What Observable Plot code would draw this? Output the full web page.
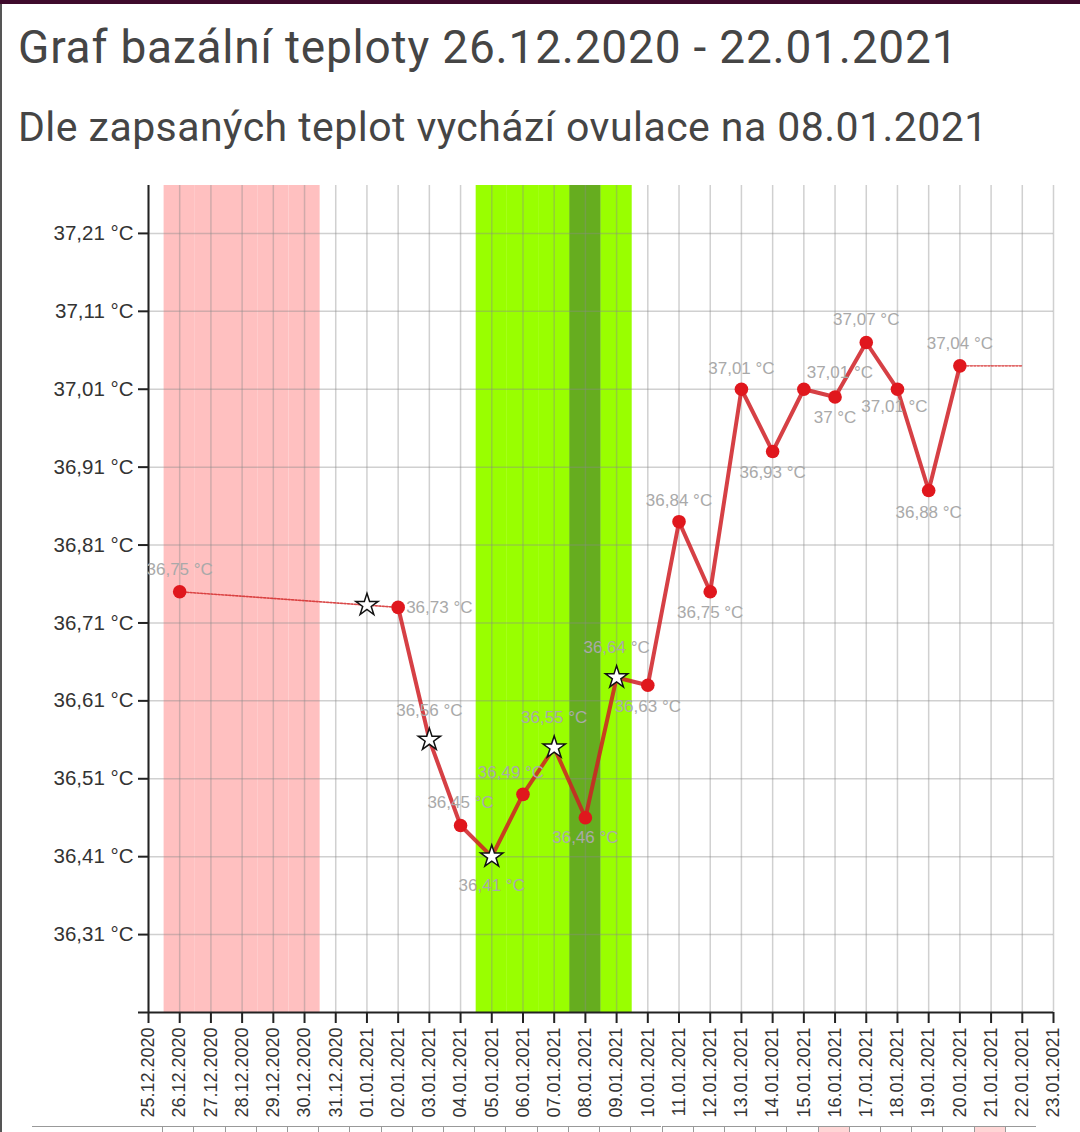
<!DOCTYPE html>
<html>
<head>
<meta charset="utf-8">
<script src="https://cdn.jsdelivr.net/npm/d3@7"></script>
<script src="https://cdn.jsdelivr.net/npm/@observablehq/plot@0.6"></script>
<style>
  html, body { margin: 0; padding: 0; background: #fff; }
  #page { position: relative; width: 1080px; height: 1132px; overflow: hidden; background: #fff; }
  #topbar { position: absolute; left: 0; top: 0; width: 1080px; height: 4px; background: #3e0a2c; }
  #leftbar { position: absolute; left: 0; top: 4px; width: 2px; height: 1128px; background: #555; }
  .t { position: absolute; left: 18px; margin: 0; font-family: Roboto, "Noto Sans", sans-serif; font-weight: 400; color: #454545; line-height: 1; white-space: nowrap; }
  #title { top: 24px; font-size: 46px; letter-spacing: 0.8px; }
  #subtitle { top: 107px; font-size: 41px; letter-spacing: 0.45px; }
  #chart { position: absolute; left: 0; top: 175px; }
  #strip { position: absolute; left: 0; top: 1126px; width: 1080px; height: 10px; }
  .cell { position: absolute; top: 0; height: 10px; box-sizing: border-box; border-top: 1px solid #999; border-left: 1px solid #999; }
</style>
</head>
<body>
<div id="page">
  <div id="topbar"></div>
  <div id="leftbar"></div>
  <h1 class="t" id="title">Graf bazální teploty 26.12.2020 - 22.01.2021</h1>
  <h2 class="t" id="subtitle">Dle zapsaných teplot vychází ovulace na 08.01.2021</h2>
  <div id="chart"></div>
  <div id="strip"></div>
</div>
<script>
// ---------- data ----------
const tickDates = ["25.12.2020","26.12.2020","27.12.2020","28.12.2020","29.12.2020","30.12.2020","31.12.2020",
  "01.01.2021","02.01.2021","03.01.2021","04.01.2021","05.01.2021","06.01.2021","07.01.2021","08.01.2021",
  "09.01.2021","10.01.2021","11.01.2021","12.01.2021","13.01.2021","14.01.2021","15.01.2021","16.01.2021",
  "17.01.2021","18.01.2021","19.01.2021","20.01.2021","21.01.2021","22.01.2021","23.01.2021"];
const yTicks = [36.31, 36.41, 36.51, 36.61, 36.71, 36.81, 36.91, 37.01, 37.11, 37.21];

const measureDates = ["26.12.2020","02.01.2021","03.01.2021","04.01.2021","05.01.2021","06.01.2021","07.01.2021",
  "08.01.2021","09.01.2021","10.01.2021","11.01.2021","12.01.2021","13.01.2021","14.01.2021","15.01.2021",
  "16.01.2021","17.01.2021","18.01.2021","19.01.2021","20.01.2021"];
const temps = [36.75, 36.73, 36.56, 36.45, 36.41, 36.49, 36.55, 36.46, 36.64, 36.63, 36.84, 36.75, 37.01,
  36.93, 37.01, 37.00, 37.07, 37.01, 36.88, 37.04];
const markerTypes = ["dot","dot","star","dot","star","dot","star","dot","star","dot","dot","dot","dot",
  "dot","dot","dot","dot","dot","dot","dot"];

// unmeasured day marked with a star (sits on the gap line)
const extraStarDates = ["01.01.2021"];
const extraStarValues = [36.733];

// continuation after the last measurement
const extensionDates = ["20.01.2021", "22.01.2021"];
const extensionValues = [37.04, 37.04];

const periodDays = ["26.12.2020","27.12.2020","28.12.2020","29.12.2020","30.12.2020"];
const fertileDays = ["05.01.2021","06.01.2021","07.01.2021","08.01.2021","09.01.2021"];
const ovulationDays = ["08.01.2021"];

const stripHighlight = ["16.01.2021", "21.01.2021"];

// label placement (layout config): [dx, dy, anchor]
const labelOffsets = {
  "26.12.2020": [0, -22, "middle"], "02.01.2021": [8, 0, "start"], "03.01.2021": [0, -29, "middle"],
  "04.01.2021": [0, -23, "middle"], "05.01.2021": [0, 29, "middle"], "06.01.2021": [-12, -22, "middle"],
  "07.01.2021": [0, -30, "middle"], "08.01.2021": [0, 20, "middle"], "09.01.2021": [0, -30, "middle"],
  "10.01.2021": [0, 21, "middle"], "11.01.2021": [0, -21, "middle"], "12.01.2021": [0, 21, "middle"],
  "13.01.2021": [0, -21, "middle"], "14.01.2021": [0, 21, "middle"], "15.01.2021": [36, -17, "middle"],
  "16.01.2021": [0, 21, "middle"], "17.01.2021": [0, -23, "middle"], "18.01.2021": [-3, 17, "middle"],
  "19.01.2021": [0, 22, "middle"], "20.01.2021": [0, -22, "middle"]
};

// ---------- build ----------
const parse = d3.utcParse("%d.%m.%Y");
const fmtDate = d3.utcFormat("%d.%m.%Y");
const halfDay = 12 * 3600 * 1000;
const fmtTemp = v => String(v).replace(".", ",") + " °C";

const measurements = measureDates.map((d, i) => ({date: parse(d), key: d, value: temps[i], marker: markerTypes[i]}));
const gapLine = measurements.slice(0, 2);
const solidLine = measurements.slice(1);
const extension = extensionDates.map((d, i) => ({date: parse(d), value: extensionValues[i]}));
const extraStars = extraStarDates.map((d, i) => ({date: parse(d), value: extraStarValues[i]}));
const band = arr => arr.map(d => ({x1: new Date(+parse(d) - halfDay), x2: new Date(+parse(d) + halfDay)}));
const ticks = tickDates.map(parse);

const labelData = measurements.map(m => ({...m, dx: labelOffsets[m.key][0], dy: labelOffsets[m.key][1], anchor: labelOffsets[m.key][2]}));
const perLabel = labelData.map(d => Plot.text([d], {
  x: "date", y: "value", text: dd => fmtTemp(dd.value), textAnchor: d.anchor,
  dx: d.dx, dy: d.dy, fill: "#a9a9a9", fontSize: 17, lineAnchor: "middle"
}));

const yMin = 36.21, yMax = 37.2715;

const chart = Plot.plot({
  width: 1080,
  height: 957,
  marginTop: 10,
  marginBottom: 120,
  marginLeft: 148,
  marginRight: 27,
  style: {fontFamily: "'Liberation Sans', Arial, sans-serif", background: "transparent", overflow: "visible"},
  x: {type: "utc", domain: [ticks[0], ticks[ticks.length - 1]]},
  y: {domain: [yMin, yMax]},
  marks: [
    Plot.rect(band(periodDays), {x1: "x1", x2: "x2", fill: "#ffc0c0"}),
    Plot.rect(band(fertileDays), {x1: "x1", x2: "x2", fill: "#99ff00"}),
    Plot.rect(band(ovulationDays), {x1: "x1", x2: "x2", fill: "#66ad1f"}),
    Plot.gridX(ticks, {stroke: "#8a8a8a", strokeOpacity: 0.4, strokeWidth: 1.5}),
    Plot.gridY(yTicks, {stroke: "#8a8a8a", strokeOpacity: 0.4, strokeWidth: 1.5}),
    Plot.ruleY([yMin], {stroke: "#222", strokeWidth: 2, insetLeft: -10}),
    Plot.ruleX([ticks[0]], {stroke: "#222", strokeWidth: 2}),
    Plot.axisX(ticks, {
      tickFormat: fmtDate, tickRotate: -90, tickSize: 11, tickPadding: 4,
      fontSize: 18, stroke: "#222", strokeWidth: 2, fill: "#333", label: null
    }),
    Plot.axisY(yTicks, {
      tickFormat: v => v.toFixed(2).replace(".", ",") + " °C", tickSize: 10, tickPadding: 5,
      fontSize: 20.5, stroke: "#222", strokeWidth: 2, fill: "#333", label: null
    }),
    Plot.line(gapLine, {x: "date", y: "value", stroke: "#d42a2a", strokeWidth: 1.6, strokeDasharray: "2,1.5", strokeOpacity: 0.85}),
    Plot.line(extension, {x: "date", y: "value", stroke: "#d42a2a", strokeWidth: 1.6, strokeDasharray: "2,1.5", strokeOpacity: 0.7}),
    Plot.line(solidLine, {x: "date", y: "value", stroke: "#cf1f24", strokeWidth: 4, strokeOpacity: 0.85, strokeLinejoin: "round"}),
    Plot.dot(measurements.filter(d => d.marker === "dot"), {x: "date", y: "value", r: 6.8, fill: "#e0171d", stroke: "none"}),
    Plot.dot(measurements.filter(d => d.marker === "star"), {x: "date", y: "value", symbol: "star", r: 7, fill: "#fff", stroke: "#111", strokeWidth: 1.5}),
    Plot.dot(extraStars, {x: "date", y: "value", symbol: "star", r: 7, fill: "#fff", stroke: "#111", strokeWidth: 1.5}),
    ...perLabel
  ]
});
document.getElementById("chart").appendChild(chart);

// bottom strip (start of the table below the chart)
const xs = chart.scale("x");
const strip = document.getElementById("strip");
const cells = tickDates.slice(1, tickDates.length - 1);
const head = document.createElement("div");
head.className = "cell";
head.style.left = "32px";
head.style.borderLeft = "none";
head.style.width = (xs.apply(parse(cells[0])) - 17 - 32) + "px";
strip.appendChild(head);
cells.forEach(d => {
  const c = document.createElement("div");
  c.className = "cell";
  const x = xs.apply(parse(d));
  c.style.left = (x - 17) + "px";
  c.style.width = "31.2px";
  if (stripHighlight.includes(d)) c.style.background = "#ffd6d6";
  strip.appendChild(c);
});
</script>
</body>
</html>
